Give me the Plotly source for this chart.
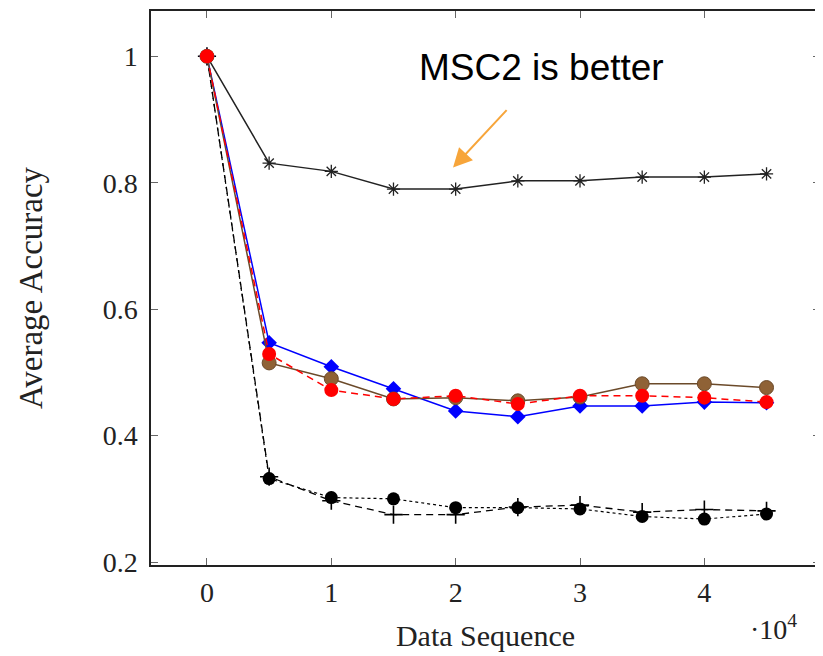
import plotly.graph_objects as go

x = [0, 5000, 10000, 15000, 20000, 25000, 30000, 35000, 40000, 45000]
msc2 = [1.0, 0.831, 0.818, 0.790, 0.790, 0.803, 0.803, 0.809, 0.809, 0.814]
blue_diam = [1.0, 0.547, 0.509, 0.474, 0.439, 0.430, 0.447, 0.447, 0.453, 0.452]
brown_circ = [1.0, 0.515, 0.490, 0.458, 0.460, 0.455, 0.461, 0.482, 0.482, 0.476]
red_circ = [1.0, 0.529, 0.472, 0.458, 0.463, 0.450, 0.463, 0.463, 0.460, 0.453]
black_dot = [1.0, 0.332, 0.302, 0.300, 0.286, 0.286, 0.284, 0.272, 0.268, 0.276]
black_plus = [1.0, 0.335, 0.297, 0.275, 0.275, 0.287, 0.290, 0.279, 0.283, 0.281]

x_ticks = [0, 10000, 20000, 30000, 40000]
x_ticklabels = ["0", "1", "2", "3", "4"]
y_ticks = [0.2, 0.4, 0.6, 0.8, 1.0]
y_ticklabels = ["0.2", "0.4", "0.6", "0.8", "1"]

fig = go.Figure()

fig.add_trace(go.Scatter(x=x, y=black_dot, mode="lines+markers",
    line=dict(color="black", width=1.2, dash="dot"),
    marker=dict(symbol="circle", size=13, color="black")))
fig.add_trace(go.Scatter(x=x, y=black_plus, mode="lines+markers",
    line=dict(color="black", width=1.3, dash="7px,5px"),
    marker=dict(symbol="cross-thin-open", size=13, line=dict(color="black", width=1.6))))
fig.add_trace(go.Scatter(x=x, y=msc2, mode="lines+markers",
    line=dict(color="#222222", width=1.5),
    marker=dict(symbol="asterisk-open", size=11, line=dict(color="black", width=1.3))))
fig.add_trace(go.Scatter(x=x, y=blue_diam, mode="lines+markers",
    line=dict(color="#0000ff", width=1.5),
    marker=dict(symbol="diamond", size=12, color="#0000ff")))
fig.add_trace(go.Scatter(x=x, y=brown_circ, mode="lines+markers",
    line=dict(color="#6b4a2a", width=1.5),
    marker=dict(symbol="circle", size=14, color="#8f6236", line=dict(color="#6b4a2a", width=1))))
fig.add_trace(go.Scatter(x=x, y=red_circ, mode="lines+markers",
    line=dict(color="#ff0000", width=1.5, dash="7px,5px"),
    marker=dict(symbol="circle", size=14, color="#ff0000")))

tick_font = dict(family="Liberation Serif", size=28, color="#222222")
xtitle_font = dict(family="Liberation Serif", size=30, color="#222222")
ytitle_font = dict(family="Liberation Serif", size=33, color="#222222")

fig.update_layout(
    width=815, height=648,
    margin=dict(l=143, r=3, t=1, b=91),
    paper_bgcolor="white", plot_bgcolor="white",
    showlegend=False,
    xaxis=dict(range=[-4500, 49300], tickvals=x_ticks, ticktext=x_ticklabels,
               ticks="inside", ticklen=7, tickcolor="#666666", tickwidth=1.2,
               showline=True, linecolor="#222222", linewidth=1.5, mirror="allticks",
               showgrid=False, zeroline=False, tickfont=tick_font, ticklabelstandoff=2,
               title=dict(text="Data Sequence", font=xtitle_font, standoff=18)),
    yaxis=dict(range=[0.1953, 1.0717], tickvals=y_ticks, ticktext=y_ticklabels,
               ticks="inside", ticklen=7, tickcolor="#666666", tickwidth=1.2,
               showline=True, linecolor="#222222", linewidth=1.5, mirror="allticks",
               showgrid=False, zeroline=False, tickfont=tick_font, ticklabelstandoff=6,
               title=dict(text="Average Accuracy", font=ytitle_font, standoff=50)),
    annotations=[
        dict(x=19790, y=0.824, xref="x", yref="y", ax=55, ay=-59, axref="pixel", ayref="pixel",
             showarrow=True, arrowhead=2, arrowsize=1.9, arrowwidth=2, arrowcolor="#f7a53a", text=""),
        dict(x=0.583, y=0.898, xref="paper", yref="paper", text="MSC2 is better", showarrow=False,
             font=dict(family="Liberation Sans", size=37, color="black"), xanchor="center", yanchor="middle"),
        dict(x=0.93, y=-0.113, xref="paper", yref="paper", text="·10<sup>4</sup>", showarrow=False,
             font=tick_font, xanchor="center", yanchor="middle"),
    ],
)

fig.write_html("out.html")
